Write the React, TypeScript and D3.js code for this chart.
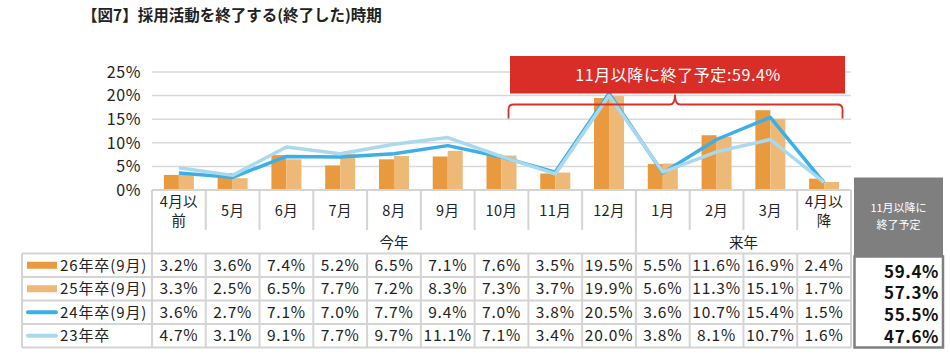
import React from "react";
import * as d3 from "d3";

const months = ["4月以前", "5月", "6月", "7月", "8月", "9月", "10月", "11月", "12月", "1月", "2月", "3月", "4月以降"];
const monthLines = [["4月以", "前"], ["5月"], ["6月"], ["7月"], ["8月"], ["9月"], ["10月"], ["11月"], ["12月"], ["1月"], ["2月"], ["3月"], ["4月以", "降"]];
const s26 = [3.2, 3.6, 7.4, 5.2, 6.5, 7.1, 7.6, 3.5, 19.5, 5.5, 11.6, 16.9, 2.4];
const s25 = [3.3, 2.5, 6.5, 7.7, 7.2, 8.3, 7.3, 3.7, 19.9, 5.6, 11.3, 15.1, 1.7];
const s24 = [3.6, 2.7, 7.1, 7.0, 7.7, 9.4, 7.0, 3.8, 20.5, 3.6, 10.7, 15.4, 1.5];
const s23 = [4.7, 3.1, 9.1, 7.7, 9.7, 11.1, 7.1, 3.4, 20.0, 3.8, 8.1, 10.7, 1.6];
const seriesNames = ["26年卒(9月)", "25年卒(9月)", "24年卒(9月)", "23年卒"];
const totals = ["59.4%", "57.3%", "55.5%", "47.6%"];
const yTicks = [0, 5, 10, 15, 20, 25];
const title = "【図7】採用活動を終了する(終了した)時期";
const bannerText = "11月以降に終了予定:59.4%";
const boxHeader = ["11月以降に", "終了予定"];
const yearGroups = [{ label: "今年", from: 0, to: 8 }, { label: "来年", from: 9, to: 12 }];

const C26 = "#EA9A3E";
const C25 = "#EEB977";
const C24 = "#3CAFE6";
const C23 = "#A9D9EE";
const GRID = "#D9D9D9";
const BORDER = "#D4D4D4";
const FONT = "'Noto Sans CJK JP', 'Noto Sans', sans-serif";

export default function App() {
  const W = 950, H = 355;
  const x = d3.scaleBand<string>().domain(months).range([152, 851]).padding(0);
  const y = d3.scaleLinear().domain([0, 25]).range([190, 72]);
  const bw = 15;
  const cx = (i: number) => (x(months[i]) as number) + x.bandwidth() / 2;
  const line = d3.line<number>().x((_, i) => cx(i)).y((d) => y(d));
  const rowTops = [253.5, 277, 300.5, 324, 347.5];
  const seriesVals = [s26, s25, s24, s23];
  const left = 22, right = 851;

  const bx0 = 508.5, bx1 = 842.5, bmid = 675, by = 104.5, byEnd = 118.5, byTop = 94.5, r = 5;
  const brace = `M${bx0},${byEnd} L${bx0},${by + r} Q${bx0},${by} ${bx0 + r},${by} L${bmid - r},${by} Q${bmid},${by} ${bmid},${byTop} Q${bmid},${by} ${bmid + r},${by} L${bx1 - r},${by} Q${bx1},${by} ${bx1},${by + r} L${bx1},${byEnd}`;

  return (
    <svg width={W} height={H} style={{ position: "absolute", left: 0, top: 0, fontFamily: FONT }}>
      <rect width={W} height={H} fill="#fff" />
      <text x={82} y={21} fontSize={15.5} fontWeight="bold" fill="#222">{title}</text>

      {yTicks.map((t) => (
        <g key={t}>
          <line x1={152} x2={851} y1={y(t)} y2={y(t)} stroke={GRID} strokeWidth={1.5} />
          <text x={141} y={y(t)} dy="0.36em" textAnchor="end" fontSize={16} letterSpacing={0.6} fill="#222">{t}%</text>
        </g>
      ))}

      {months.map((m, i) => (
        <g key={m}>
          <rect x={cx(i) - bw} y={y(s26[i])} width={bw} height={y(0) - y(s26[i])} fill={C26} />
          <rect x={cx(i)} y={y(s25[i])} width={bw} height={y(0) - y(s25[i])} fill={C25} />
        </g>
      ))}

      <path d={line(s24) || ""} fill="none" stroke={C24} strokeWidth={3.5} strokeLinejoin="round" />
      <path d={line(s23) || ""} fill="none" stroke={C23} strokeWidth={3.5} strokeLinejoin="round" />

      <path d={brace} fill="none" stroke="#D9302A" strokeWidth={1.8} />
      <rect x={510} y={56} width={335} height={37.5} fill="#D92D27" />
      <text x={678} y={75} dy="0.36em" textAnchor="middle" fontSize={16} letterSpacing={0.6} fill="#fff">{bannerText}</text>

      <line x1={152} x2={851} y1={190} y2={190} stroke={BORDER} strokeWidth={2} />
      {months.map((m, i) => {
        const x0 = x(m) as number;
        return (
          <g key={"h" + m}>
            {i > 0 && <line x1={x0} x2={x0} y1={190} y2={230} stroke={BORDER} strokeWidth={2} />}
            {monthLines[i].map((s, k) => (
              <text key={k} x={cx(i)} y={monthLines[i].length === 1 ? 211 : 202 + k * 19} dy="0.36em" textAnchor="middle" fontSize={14.5} letterSpacing={0.4} fill="#222">{s}</text>
            ))}
          </g>
        );
      })}
      <line x1={152} x2={152} y1={190} y2={347.5} stroke={BORDER} strokeWidth={2} />
      <line x1={851} x2={851} y1={190} y2={347.5} stroke={BORDER} strokeWidth={2} />
      <line x1={x(months[9]) as number} x2={x(months[9]) as number} y1={190} y2={253.5} stroke={BORDER} strokeWidth={2} />
      {yearGroups.map((g) => {
        const a = x(months[g.from]) as number;
        const b = (x(months[g.to]) as number) + x.bandwidth();
        return <text key={g.label} x={(a + b) / 2} y={243} dy="0.36em" textAnchor="middle" fontSize={14.5} fill="#222">{g.label}</text>;
      })}

      {rowTops.map((t) => (
        <line key={"r" + t} x1={left} x2={right} y1={t} y2={t} stroke={BORDER} strokeWidth={2} />
      ))}
      <line x1={left} x2={left} y1={253.5} y2={347.5} stroke={BORDER} strokeWidth={2} />
      {months.map((m, i) => i > 0 && (
        <line key={"v" + m} x1={x(m) as number} x2={x(m) as number} y1={253.5} y2={347.5} stroke={BORDER} strokeWidth={2} />
      ))}
      {seriesVals.map((vals, r) => {
        const mid = (rowTops[r] + rowTops[r + 1]) / 2;
        return (
          <g key={"row" + r}>
            {r < 2 ? (
              <rect x={27} y={mid - 3.5} width={30} height={7} fill={r === 0 ? C26 : C25} />
            ) : (
              <line x1={28} x2={56} y1={mid} y2={mid} stroke={r === 2 ? C24 : C23} strokeWidth={4} strokeLinecap="round" />
            )}
            <text x={60} y={mid} dy="0.36em" fontSize={15} letterSpacing={0.9} fill="#222">{seriesNames[r]}</text>
            {vals.map((v, i) => (
              <text key={i} x={cx(i)} y={mid} dy="0.36em" textAnchor="middle" fontSize={15.5} letterSpacing={0.8} fill="#222">{v.toFixed(1)}%</text>
            ))}
          </g>
        );
      })}

      <rect x={854} y={177.5} width={89} height={79} fill="#7F7F7F" />
      <rect x={854.5} y={256.5} width={88.5} height={91} fill="#fff" stroke="#7F7F7F" strokeWidth={2.5} />
      {boxHeader.map((s, k) => (
        <text key={s} x={898.5} y={208 + k * 17} dy="0.36em" textAnchor="middle" fontSize={11} fill="#fff">{s}</text>
      ))}
      {totals.map((s, k) => (
        <text key={s} x={939} y={271.5 + k * 21.7} dy="0.36em" textAnchor="end" fontSize={17} fontWeight="bold" letterSpacing={0.6} fill="#111">{s}</text>
      ))}
    </svg>
  );
}
